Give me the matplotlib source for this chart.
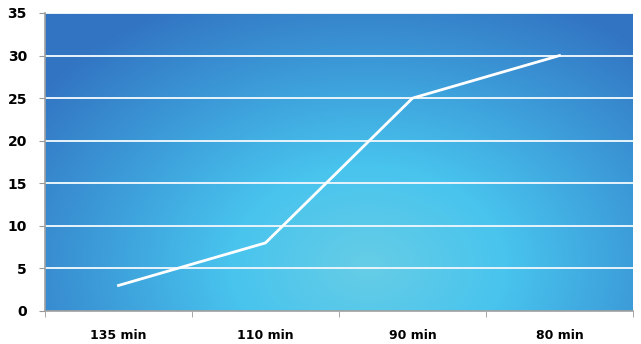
import numpy as np
import matplotlib.pyplot as plt
from matplotlib.colors import LinearSegmentedColormap

# chart data
categories = ["135 min", "110 min", "90 min", "80 min"]
values = [3, 8, 25, 30]
y_ticks = [0, 5, 10, 15, 20, 25, 30, 35]

fig = plt.figure(figsize=(6.41, 3.44), dpi=100)
ax = fig.add_axes([45 / 641, 33 / 344, 588 / 641, 298 / 344])

# radial blue background
bg = LinearSegmentedColormap.from_list(
    "bg", ["#66cde6", "#48c4ee", "#3c9bd8", "#3274c2"])
gx, gy = np.meshgrid(np.linspace(0, 1, 400), np.linspace(0, 1, 200))
dist = np.sqrt(((gx - 0.55) / 0.7) ** 2 + ((gy - 0.15) / 1.0) ** 2)
dist = np.clip(dist, 0, 1)
ax.imshow(dist, cmap=bg, origin="lower", aspect="auto",
          extent=[-0.5, len(categories) - 0.5, 0, 35], zorder=0)

# gridlines
for t in y_ticks[1:]:
    ax.axhline(t, color="#e8f4fb", lw=1.4, zorder=1)

x = np.arange(len(categories))
ax.plot(x, values, color="white", lw=2, zorder=3)

ax.set_xlim(-0.5, len(categories) - 0.5)
ax.set_ylim(0, 35)
ax.set_yticks(y_ticks)
ax.set_yticklabels([str(t) for t in y_ticks], fontsize=10, fontweight="bold")

ax.set_xticks(x)
ax.set_xticklabels(categories, fontsize=9, fontweight="bold")
ax.tick_params(axis="x", length=0, pad=13)
ax.set_xticks(np.arange(len(categories) + 1) - 0.5, minor=True)
ax.tick_params(axis="x", which="minor", length=4, color="#999999")
ax.tick_params(axis="y", length=4, color="#999999", pad=9)

for side in ["top", "right"]:
    ax.spines[side].set_visible(False)
for side in ["left", "bottom"]:
    ax.spines[side].set_color("#a0a0a0")
    ax.spines[side].set_linewidth(1.2)

fig.savefig("out.png", dpi=100)
